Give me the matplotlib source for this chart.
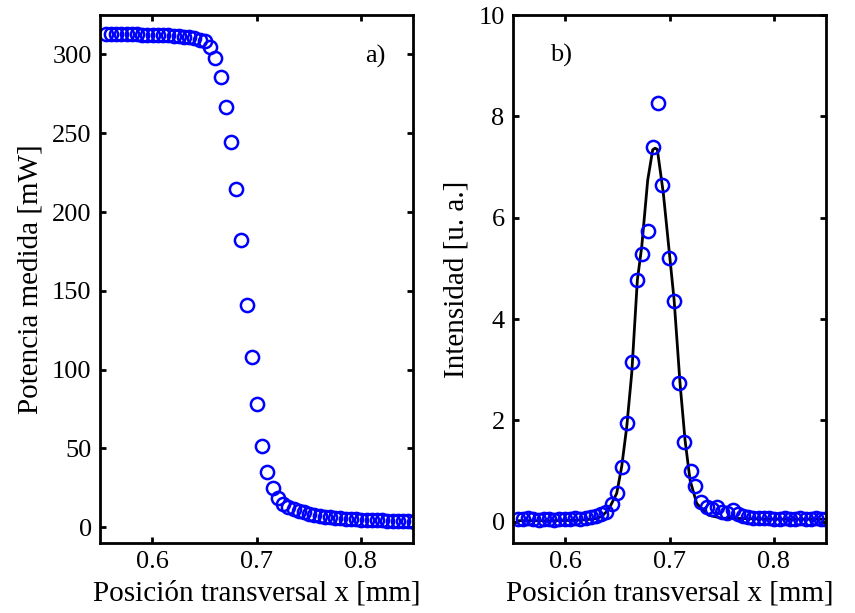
"""Potencia medida y perfil de intensidad (filo de cuchilla)."""
import matplotlib
matplotlib.use("Agg")
import matplotlib.pyplot as plt

plt.rcParams.update({
    "font.family": ["Liberation Serif", "DejaVu Serif"],
    "font.size": 19,
    "axes.linewidth": 2.0,
    "xtick.direction": "in",
    "ytick.direction": "in",
    "xtick.top": True,
    "ytick.right": True,
    "xtick.major.size": 4,
    "ytick.major.size": 4,
    "xtick.major.width": 2.0,
    "ytick.major.width": 2.0,
})

# a) potencia medida vs posicion
x_pot = [0.5555, 0.5605, 0.5655, 0.5705, 0.5755, 0.5805, 0.5855, 0.5905, 0.5955, 0.6005,
         0.6055, 0.6105, 0.6155, 0.6205, 0.6255, 0.6305, 0.6355, 0.6405, 0.6455, 0.6505,
         0.6555, 0.6605, 0.6655, 0.6705, 0.6755, 0.6805, 0.6855, 0.6905, 0.6955, 0.7005,
         0.7055, 0.7105, 0.7155, 0.7205, 0.7255, 0.7305, 0.7355, 0.7405, 0.7455, 0.7505,
         0.7555, 0.7605, 0.7655, 0.7705, 0.7755, 0.7805, 0.7855, 0.7905, 0.7955, 0.8005,
         0.8055, 0.8105, 0.8155, 0.8205, 0.8255, 0.8305, 0.8355, 0.8405, 0.8455, 0.8505]
potencia = [313.0, 313.0, 312.9, 312.9, 312.8, 312.8, 312.7, 312.6, 312.5, 312.4,
            312.3, 312.2, 312.0, 311.8, 311.6, 311.3, 310.9, 310.4, 309.4, 308.2,
            304.6, 297.5, 285.6, 266.5, 244.5, 214.8, 182.3, 141.0, 108.2, 78.0,
            51.3, 34.8, 24.6, 18.5, 15.0, 13.0, 11.6, 10.4, 9.5, 8.7,
            8.0, 7.3, 6.8, 6.4, 6.0, 5.7, 5.4, 5.2, 5.0, 4.8,
            4.6, 4.5, 4.4, 4.3, 4.2, 4.1, 4.0, 3.9, 3.8, 3.6]

# b) intensidad (derivada) y ajuste
x_int = [0.5545, 0.5595, 0.5645, 0.5695, 0.5745, 0.5795, 0.5845, 0.5895, 0.5945, 0.5995,
         0.6045, 0.6095, 0.6145, 0.6195, 0.6245, 0.6295, 0.6345, 0.6395, 0.6446, 0.6494,
         0.6548, 0.6594, 0.6644, 0.6692, 0.6734, 0.6791, 0.6845, 0.6893, 0.6931, 0.6996,
         0.7044, 0.7095, 0.7143, 0.7207, 0.7245, 0.7303, 0.7355, 0.7405, 0.7455, 0.7505,
         0.7555, 0.7605, 0.7655, 0.7705, 0.7755, 0.7805, 0.7855, 0.7905, 0.7955, 0.8005,
         0.8055, 0.8105, 0.8155, 0.8205, 0.8255, 0.8305, 0.8355, 0.8405, 0.8455, 0.8495]
intensidad = [0.06, 0.05, 0.07, 0.05, 0.04, 0.06, 0.05, 0.04, 0.05, 0.06,
              0.05, 0.07, 0.06, 0.08, 0.09, 0.11, 0.15, 0.20, 0.35, 0.56,
              1.07, 1.94, 3.15, 4.77, 5.28, 5.74, 7.40, 8.26, 6.65, 5.21,
              4.35, 2.74, 1.58, 1.00, 0.71, 0.38, 0.30, 0.25, 0.30, 0.20,
              0.18, 0.24, 0.15, 0.12, 0.10, 0.08, 0.08, 0.07, 0.07, 0.06,
              0.06, 0.07, 0.06, 0.06, 0.07, 0.06, 0.06, 0.07, 0.06, 0.06]

x_ajuste = [0.5545, 0.5845, 0.6145, 0.6295, 0.6345, 0.6414, 0.6494, 0.6542, 0.6590, 0.6638,
            0.6692, 0.6734, 0.6791, 0.6839, 0.6861, 0.6883, 0.6941, 0.6996, 0.7044, 0.7101,
            0.7149, 0.7197, 0.7261, 0.7373, 0.7500, 0.8000, 0.8495]
ajuste = [0.02, 0.02, 0.03, 0.06, 0.10, 0.23, 0.56, 1.09, 1.87, 2.93,
          4.77, 5.43, 6.74, 7.34, 7.37, 7.35, 6.48, 5.36, 4.38, 2.73,
          1.61, 0.82, 0.36, 0.13, 0.07, 0.05, 0.05]

fig = plt.figure(figsize=(8.55, 6.13), dpi=100)
ax1 = fig.add_axes([100 / 855, 70 / 613, 313 / 855, 528 / 613])
ax2 = fig.add_axes([513 / 855, 70 / 613, 313 / 855, 528 / 613])

mk = dict(linestyle="none", marker="o", markersize=9.5, markerfacecolor="none",
          markeredgecolor="#0000ff", markeredgewidth=1.8)

ax1.plot(x_pot, potencia, **mk)
ax1.set_xlim(0.55, 0.85)
ax1.set_ylim(-10, 325)
ax1.set_xticks([0.6, 0.7, 0.8])
ax1.set_yticks([0, 50, 100, 150, 200, 250, 300])
ax1.set_xlabel("Posición transversal x [mm]", fontsize=21, labelpad=5)
ax1.set_ylabel("Potencia medida [mW]", fontsize=21, labelpad=6)
ax1.text(0.8135, 299, "a)", fontsize=19, ha="center", va="center")

ax2.plot(x_ajuste, ajuste, color="black", linewidth=2.0)
ax2.plot(x_int, intensidad, **mk)
ax2.set_xlim(0.55, 0.85)
ax2.set_ylim(-0.42, 10)
ax2.set_xticks([0.6, 0.7, 0.8])
ax2.set_yticks([0, 2, 4, 6, 8, 10])
ax2.set_xlabel("Posición transversal x [mm]", fontsize=21, labelpad=5)
ax2.set_ylabel("Intensidad [u. a.]", fontsize=21, labelpad=6)
ax2.text(0.596, 9.21, "b)", fontsize=19, ha="center", va="center")

for ax in (ax1, ax2):
    ax.tick_params(pad=6)

fig.savefig("out.png", dpi=100)
